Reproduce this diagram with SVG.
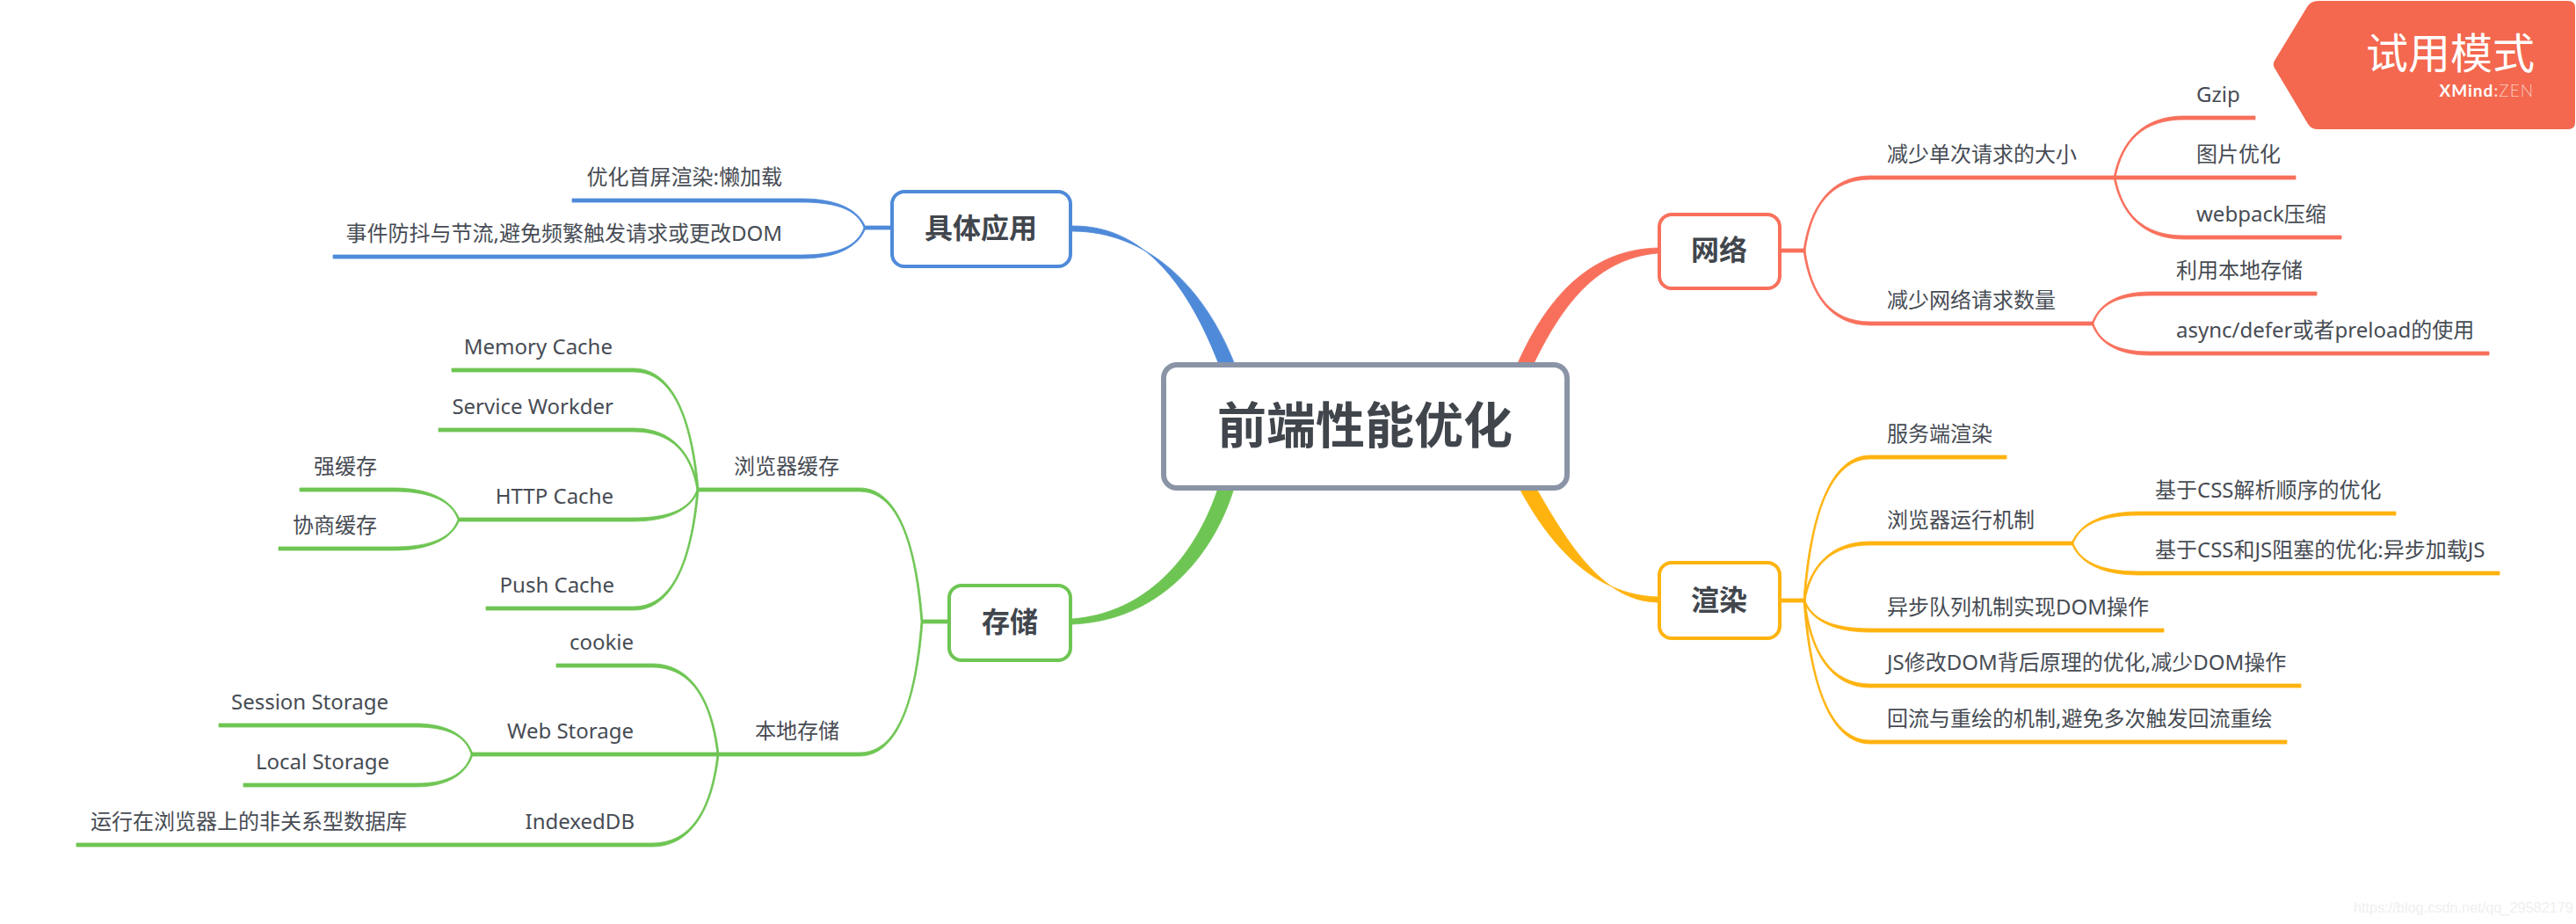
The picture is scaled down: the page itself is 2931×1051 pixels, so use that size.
<svg xmlns="http://www.w3.org/2000/svg" width="2931" height="1051" viewBox="0 0 2931 1051">
<style>
text{font-family:"Noto Sans","Noto Sans CJK SC",sans-serif;fill:#474c54}
.t{font-size:24px}
.e{text-anchor:end}
.m{font-size:32px;font-weight:700;text-anchor:middle;fill:#41464d}
.box{fill:#fff;stroke-width:4}
.r{fill:#f8705c;stroke:#f8705c;stroke-width:.8}.rs{stroke:#f8705c}
.y{fill:#ffb30f;stroke:#ffb30f;stroke-width:.8}.ys{stroke:#ffb30f}
.g{fill:#6ec553;stroke:#6ec553;stroke-width:.8}.gs{stroke:#6ec553}
.b{fill:#4f8ad9;stroke:#4f8ad9;stroke-width:.8}.bs{stroke:#4f8ad9}
</style>
<rect width="2931" height="1051" fill="#fff"/>
<g id="connectors">
<g class="b">
<path d="M1220,257C1300,256 1352,322 1389,420L1407,420C1372,326 1305,263 1220,263Z"/>
<rect x="984" y="257" width="31" height="4"/>
<path d="M985,259C978,240 955,226 912,226H651v4H912C955,230 976,240 983,259Z"/>
<path d="M983,259C976,279 955,290 912,290H379v4H912C955,294 978,279 985,259Z"/>
</g>
<g class="g">
<path d="M1220,704C1310,697 1364,625 1387,552L1405,552C1382,631 1320,706 1220,710Z"/>
<rect x="1049" y="705" width="31" height="4"/>
<path d="M1050,707C1043,617 1021,555 978,555H794v4H978C1021,559 1041,617 1048,707Z"/>
<path d="M1048,707C1041,798 1021,856 978,856H817v4H978C1021,860 1043,798 1050,707Z"/>
<path d="M795,557C788,475 765,419 721,419H514v4H721C765,423 786,475 793,557Z"/>
<path d="M795,557C788,516 765,487 721,487H499v4H721C765,491 786,516 793,557Z"/>
<path d="M793,557C786,577 765,589 721,589H522v4H721C765,593 788,577 795,557Z"/>
<path d="M793,557C786,638 765,690 721,690H553v4H721C765,694 788,638 795,557Z"/>
<path d="M523,591C516,571 492,555 448,555H341v4H448C492,559 514,571 521,591Z"/>
<path d="M521,591C514,611 492,622 448,622H317v4H448C492,626 516,611 523,591Z"/>
<path d="M818,858C811,797 787,755 742,755H633v4H742C787,759 809,797 816,858Z"/>
<rect x="537" y="856" width="280" height="4"/>
<path d="M816,858C809,920 787,959 742,959H87v4H742C787,963 811,920 818,858Z"/>
<path d="M538,858C532,838 511,823 473,823H249v4H473C511,827 530,838 536,858Z"/>
<path d="M536,858C530,879 511,891 473,891H277v4H473C511,895 532,879 538,858Z"/>
</g>
<g class="r">
<path d="M1886,282C1808,284 1758,340 1724,420L1742,420C1777,346 1817,294 1886,288Z"/>
<rect x="2025" y="283" width="29" height="4"/>
<path d="M2052,285C2059,235 2083,200 2128,200H2406v4H2128C2083,204 2061,235 2054,285Z"/>
<path d="M2054,285C2061,335 2083,366 2128,366H2381v4H2128C2083,370 2059,335 2052,285Z"/>
<path d="M2405,202C2413,161 2438,132 2485,132H2566v4H2485C2438,136 2415,161 2407,202Z"/>
<rect x="2406" y="200" width="206" height="4"/>
<path d="M2407,202C2415,243 2438,268 2485,268H2664v4H2485C2438,272 2413,243 2405,202Z"/>
<path d="M2380,368C2387,348 2407,332 2446,332H2636v4H2446C2407,336 2389,348 2382,368Z"/>
<path d="M2382,368C2389,388 2407,400 2446,400H2832v4H2446C2407,404 2387,388 2380,368Z"/>
</g>
<g class="y">
<path d="M1886,679C1813,677 1763,620 1727,552L1746,552C1787,625 1827,684 1886,685Z"/>
<rect x="2025" y="681" width="29" height="4"/>
<path d="M2052,683C2059,585 2083,518 2128,518H2283v4H2128C2083,522 2061,585 2054,683Z"/>
<path d="M2052,683C2059,644 2083,616 2128,616H2358v4H2128C2083,620 2061,644 2054,683Z"/>
<path d="M2054,683C2061,703 2083,715 2128,715H2462v4H2128C2083,719 2059,703 2052,683Z"/>
<path d="M2054,683C2061,741 2083,778 2128,778H2618v4H2128C2083,782 2059,741 2052,683Z"/>
<path d="M2054,683C2061,780 2083,842 2128,842H2602v4H2128C2083,846 2059,780 2052,683Z"/>
<path d="M2357,618C2365,598 2388,582 2434,582H2726v4H2434C2388,586 2367,598 2359,618Z"/>
<path d="M2359,618C2367,638 2388,650 2434,650H2844v4H2434C2388,654 2365,638 2357,618Z"/>
</g>
</g>
<g id="root"><rect x="1324" y="415" width="459" height="140" rx="15" fill="#fff" stroke="#8a94a6" stroke-width="6"/><text x="1553" y="504" text-anchor="middle" font-size="56" font-weight="700" style="fill:#41464d">前端性能优化</text></g>
<g id="net"><rect class="box rs" x="1888" y="244" width="137" height="84" rx="14"/><text class="m" x="1956" y="296">网络</text></g>
<g id="render"><rect class="box ys" x="1888" y="640" width="137" height="86" rx="14"/><text class="m" x="1956" y="694">渲染</text></g>
<g id="apply"><rect class="box bs" x="1015" y="218" width="203" height="85" rx="14"/><text class="m" x="1116" y="271">具体应用</text></g>
<g id="store"><rect class="box gs" x="1080" y="666" width="138" height="85" rx="14"/><text class="m" x="1149" y="719">存储</text></g>
<g id="n1"><text class="t" x="2147" y="184">减少单次请求的大小</text></g>
<g id="n2"><text class="t" x="2147" y="350">减少网络请求数量</text></g>
<g id="n3"><text class="t" x="2499" y="116">Gzip</text></g>
<g id="n4"><text class="t" x="2499" y="184">图片优化</text></g>
<g id="n5"><text class="t" x="2499" y="252">webpack压缩</text></g>
<g id="n6"><text class="t" x="2476" y="316">利用本地存储</text></g>
<g id="n7"><text class="t" x="2476" y="384">async/defer或者preload的使用</text></g>
<g id="n8"><text class="t" x="2147" y="502">服务端渲染</text></g>
<g id="n9"><text class="t" x="2147" y="600">浏览器运行机制</text></g>
<g id="n10"><text class="t" x="2452" y="566">基于CSS解析顺序的优化</text></g>
<g id="n11"><text class="t" x="2452" y="634">基于CSS和JS阻塞的优化:异步加载JS</text></g>
<g id="n12"><text class="t" x="2147" y="699">异步队列机制实现DOM操作</text></g>
<g id="n13"><text class="t" x="2147" y="762">JS修改DOM背后原理的优化,减少DOM操作</text></g>
<g id="n14"><text class="t" x="2147" y="826">回流与重绘的机制,避免多次触发回流重绘</text></g>
<g id="n15"><text class="t e" x="890" y="210">优化首屏渲染:懒加载</text></g>
<g id="n16"><text class="t e" x="890" y="274">事件防抖与节流,避免频繁触发请求或更改DOM</text></g>
<g id="n17"><text class="t e" x="955" y="539">浏览器缓存</text></g>
<g id="n18"><text class="t e" x="955" y="840">本地存储</text></g>
<g id="n19"><text class="t e" x="697" y="403">Memory Cache</text></g>
<g id="n20"><text class="t e" x="698" y="471">Service Workder</text></g>
<g id="n21"><text class="t e" x="698" y="573">HTTP Cache</text></g>
<g id="n22"><text class="t e" x="699" y="674">Push Cache</text></g>
<g id="n23"><text class="t e" x="429" y="539">强缓存</text></g>
<g id="n24"><text class="t e" x="429" y="606">协商缓存</text></g>
<g id="n25"><text class="t e" x="721" y="739">cookie</text></g>
<g id="n26"><text class="t e" x="721" y="840">Web Storage</text></g>
<g id="n27"><text class="t e" x="722" y="943">IndexedDB</text></g>
<g id="n28"><text class="t e" x="442" y="807">Session Storage</text></g>
<g id="n29"><text class="t e" x="443" y="875">Local Storage</text></g>
<g id="n30"><text class="t e" x="463" y="943">运行在浏览器上的非关系型数据库</text></g>
<g id="badge">
<path d="M2638,1H2922Q2930,1 2930,9V139Q2930,147 2922,147H2637Q2630,147 2626,141L2589,79Q2585,74 2588,69L2625,8Q2629,1 2638,1Z" fill="#f3684f"/>
<text x="2884" y="78" text-anchor="end" font-size="48" style="fill:#fff">试用模式</text>
<text x="2883" y="110" text-anchor="end" font-size="19" letter-spacing="1" style="font-family:Lato,sans-serif;fill:#fff;font-weight:700">XMind<tspan style="fill:#fbd5cc" font-weight="700">:</tspan><tspan style="fill:#fbc9bd" font-weight="300">ZEN</tspan></text>
</g>
<text x="2678" y="1038" font-size="16.3" style="font-family:'Liberation Sans',sans-serif;fill:#efefef">https://blog.csdn.net/qq_29582179</text>
</svg>
